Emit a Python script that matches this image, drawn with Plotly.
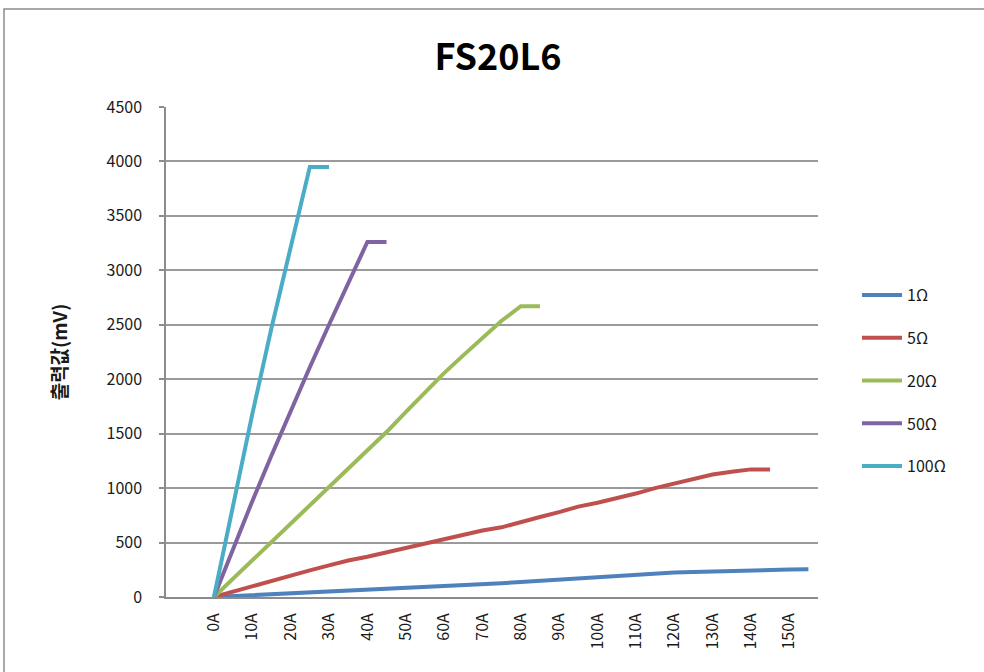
import plotly.graph_objects as go

categories = [f"{a}A" for a in range(0, 160, 5)]
tick_labels = [f"{a}A" for a in range(0, 160, 10)]

series_names = ["1Ω", "5Ω", "20Ω", "50Ω", "100Ω"]

s1 = [0, 8, 18, 28, 37, 45, 53, 62, 72, 80, 88, 96, 104, 112, 120, 126,
      138, 150, 162, 172, 184, 196, 208, 218, 225, 230, 236, 242, 247, 250, 252, 254]
s5 = [0, 50, 100, 145, 195, 245, 290, 335, 370, 410, 455, 495, 535, 575, 610, 640,
      690, 735, 780, 830, 865, 905, 950, 1000, 1040, 1085, 1125, 1150, 1172, 1172]
s20 = [0, 168, 338, 506, 673, 839, 1005, 1175, 1344, 1515, 1697, 1879, 2056, 2219,
       2383, 2537, 2670, 2670]
s50 = [0, 450, 880, 1300, 1710, 2110, 2500, 2890, 3260, 3260]
s100 = [0, 850, 1680, 2470, 3230, 3950, 3950]

values = [s1, s5, s20, s50, s100]
colors = ["#4F81BD", "#C0504D", "#9BBB59", "#8064A2", "#4BACC6"]

FONT = "Noto Sans CJK KR, Noto Sans, sans-serif"

fig = go.Figure()
for name, vals, col in zip(series_names, values, colors):
    fig.add_trace(go.Scatter(
        x=categories[:len(vals)], y=vals, name=name, mode="lines",
        line=dict(color=col, width=4), legendgroup=name,
    ))

W, H = 984, 672
L, R, T, B = 166, 818, 107, 597
pw, ph = R - L, B - T

def px(xp):
    return (xp - L) / pw

def py(yp):
    return (B - yp) / ph

fig.update_layout(
    width=W, height=H, autosize=False,
    margin=dict(l=L, r=W - R, t=T, b=H - B),
    paper_bgcolor="white", plot_bgcolor="white",
    font=dict(family=FONT, size=16, color="#1a1a1a"),
    title=dict(text="<b>FS20L6</b>", x=498 / W, xref="container", xanchor="center",
               y=1 - 57 / H, yref="container", yanchor="middle",
               font=dict(family=FONT, size=36, color="#000000")),
    showlegend=True,
    legend=dict(x=px(857), y=py(278), xanchor="left", yanchor="top",
                font=dict(family=FONT, size=16, color="#1a1a1a"),
                tracegroupgap=19, bgcolor="rgba(0,0,0,0)", itemwidth=40),
    xaxis=dict(
        type="category", categoryorder="array", categoryarray=categories,
        range=[-2.5, 31.5], tickmode="array", tickvals=tick_labels, ticktext=tick_labels,
        tickangle=-90, showgrid=False, zeroline=False,
        showline=True, linecolor="#8c8c8c", linewidth=1.5,
        ticks="", ticklabelstandoff=8,
        tickfont=dict(family=FONT, size=16, color="#1a1a1a"),
    ),
    yaxis=dict(
        range=[0, 4500], tick0=0, dtick=500,
        showgrid=True, gridcolor="#9a9a9a", gridwidth=1.5,
        zeroline=True, zerolinecolor="#8c8c8c", zerolinewidth=1.5,
        showline=True, linecolor="#8c8c8c", linewidth=1.5,
        ticks="outside", ticklen=5, tickcolor="#8c8c8c", tickwidth=1.5,
        ticklabelstandoff=14,
        tickfont=dict(family=FONT, size=16, color="#1a1a1a"),
        title=dict(text="<b>출력값(mV)</b>", standoff=34,
                   font=dict(family=FONT, size=19, color="#1a1a1a")),
    ),
    shapes=[dict(type="rect", xref="paper", yref="paper",
                 x0=px(4), x1=px(995), y0=py(690), y1=py(9),
                 line=dict(color="#8c8c8c", width=1.5), fillcolor="rgba(0,0,0,0)",
                 layer="below")],
)

fig.write_html("out.html", config={"displayModeBar": False},
               post_script="document.body.style.margin='0px';document.body.style.overflow='hidden';")
